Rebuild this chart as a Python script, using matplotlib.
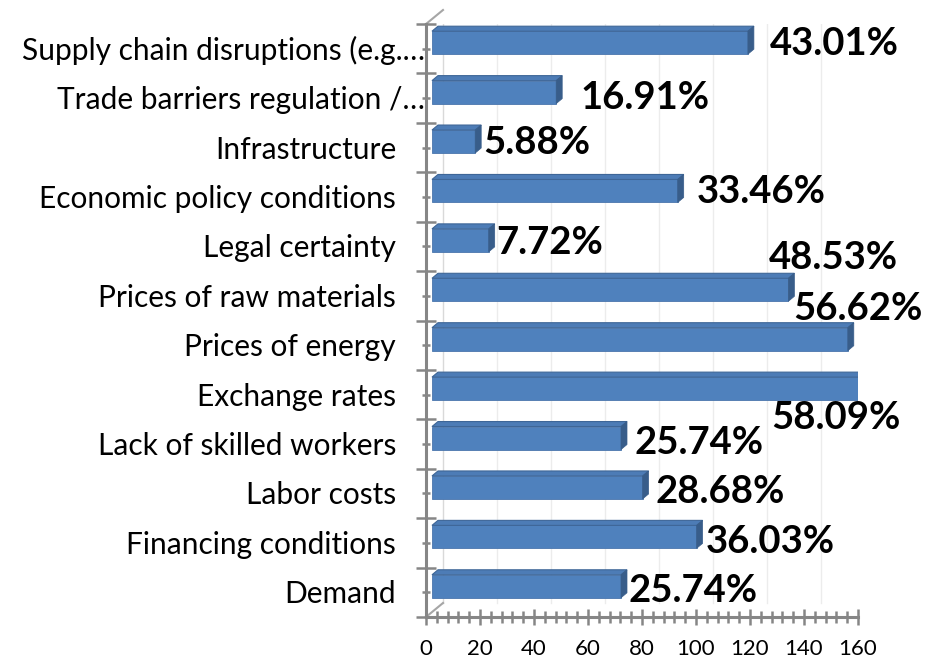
import matplotlib
matplotlib.use("Agg")
import matplotlib.pyplot as plt
from matplotlib.patches import Polygon
from matplotlib.transforms import ScaledTranslation, blended_transform_factory

categories = ["Supply chain disruptions (e.g.…", "Trade barriers regulation /…",
              "Infrastructure", "Economic policy conditions", "Legal certainty",
              "Prices of raw materials", "Prices of energy", "Exchange rates",
              "Lack of skilled workers", "Labor costs", "Financing conditions", "Demand"]
values = [117, 46, 16, 91, 21, 132, 154, 158, 70, 78, 98, 70]
labels = ["43.01%", "16.91%", "5.88%", "33.46%", "7.72%", "48.53%",
          "56.62%", "58.09%", "25.74%", "28.68%", "36.03%", "25.74%"]
xticks = [0, 20, 40, 60, 80, 100, 120, 140, 160]

# label offsets (pixels) relative to bar front end / bar centre
lab_dx = [22, 24, 8, 19, 8, -20, -55, -87, 13, 13, 9, 7]
lab_dy = [-1, -6, -1, -1, -3, 32, 30, -29, -5, -5, -5, -5]

DPI = 100
W, H = 934, 662
fig = plt.figure(figsize=(W / DPI, H / DPI), dpi=DPI)
x0, x1 = 426, 858
ytop, ybot = 24, 617
ax = fig.add_axes([x0 / W, 1 - ybot / H, (x1 - x0) / W, (ybot - ytop) / H])
n = len(categories)
ax.set_xlim(0, 160)
ax.set_ylim(-0.5, n - 0.5)
for s in ax.spines.values():
    s.set_visible(False)

px_x = (x1 - x0) / 160.0
px_y = (ybot - ytop) / n

def px(v):
    return v / DPI

axis_col = "#868686"
# back wall / 3D frame
dep_x, dep_y = 17, 14
wall = ax.transData + ScaledTranslation(px(dep_x), px(dep_y), fig.dpi_scale_trans)
for t in xticks[1:]:
    ax.plot([t, t], [-0.5, n - 0.5], color="#ececec", lw=1, transform=wall, zorder=0)
ax.plot([0, 0], [-0.5, n - 0.5], color="#d9d9d9", lw=1, transform=wall, zorder=0)
# diagonal depth lines at corners
for yy in (-0.5, n - 0.5):
    ax.plot([0, dep_x / px_x], [yy, yy + dep_y / px_y], color="#a6a6a6", lw=1.5,
            zorder=1, clip_on=False)

# main axes lines
ax.plot([0, 0], [-0.5, n - 0.5], color=axis_col, lw=2.2, zorder=5, clip_on=False)
ax.plot([0, 160], [-0.5, -0.5], color=axis_col, lw=2.2, zorder=5, clip_on=False)

# bars with 3D faces
off_x, off_y = 6, 6
front = ax.transData + ScaledTranslation(px(off_x), px(off_y), fig.dpi_scale_trans)
h = 23 / px_y
ddx = 6 / px_x
ddy = 5 / px_y
ypos = [n - 1 - i for i in range(n)]
for yv, v in zip(ypos, values):
    ax.barh(yv, v, height=h, left=0, color="#4F81BD", edgecolor="#4A76AD",
            linewidth=0.6, transform=front, zorder=3)
    top = Polygon([(0, yv + h / 2), (v, yv + h / 2), (v + ddx, yv + h / 2 + ddy),
                   (ddx, yv + h / 2 + ddy)], closed=True, facecolor="#4D7CB6",
                  edgecolor="#3E6697", linewidth=0.8, transform=front, zorder=3)
    side = Polygon([(v, yv - h / 2), (v + ddx, yv - h / 2 + ddy),
                    (v + ddx, yv + h / 2 + ddy), (v, yv + h / 2)], closed=True,
                   facecolor="#385D8A", edgecolor="#385D8A", linewidth=0.5,
                   transform=front, zorder=3)
    ax.add_patch(top)
    ax.add_patch(side)

# value labels
for yv, v, lab, dx, dy in zip(ypos, values, labels, lab_dx, lab_dy):
    tr = ax.transData + ScaledTranslation(px(off_x + dx), px(off_y + dy), fig.dpi_scale_trans)
    ax.text(v, yv, lab, transform=tr, ha="left", va="center", fontsize=27.5,
            fontweight="bold", family="Lato", color="black", zorder=6, clip_on=False)

# x ticks
ax.set_xticks(xticks)
ax.set_xticklabels([str(t) for t in xticks], fontsize=16, family="Lato")
ax.set_xticks(range(0, 161, 4), minor=True)
ax.tick_params(axis="x", which="major", direction="inout", length=11, width=1.8,
               color=axis_col, pad=10)
ax.tick_params(axis="x", which="minor", direction="inout", length=8, width=1.8,
               color=axis_col)
# y ticks
ax.set_yticks([k - 0.5 for k in range(n + 1)])
ax.set_yticklabels([])
ax.set_yticks(range(n), minor=True)
ax.tick_params(axis="y", which="major", direction="inout", length=14, width=1.8,
               color=axis_col)
ax.tick_params(axis="y", which="minor", direction="inout", length=6, width=1.8,
               color=axis_col)

# category labels
bt = blended_transform_factory(ax.transAxes, ax.transData)
for yv, c in zip(ypos, categories):
    trunc = c.endswith("…")
    dx = -1 if trunc else -30
    tr = bt + ScaledTranslation(px(dx), px(-2), fig.dpi_scale_trans)
    ax.text(0, yv, c, transform=tr, ha="right", va="center", fontsize=21.5,
            family="Lato", color="black")

fig.savefig("out.png", dpi=DPI)
